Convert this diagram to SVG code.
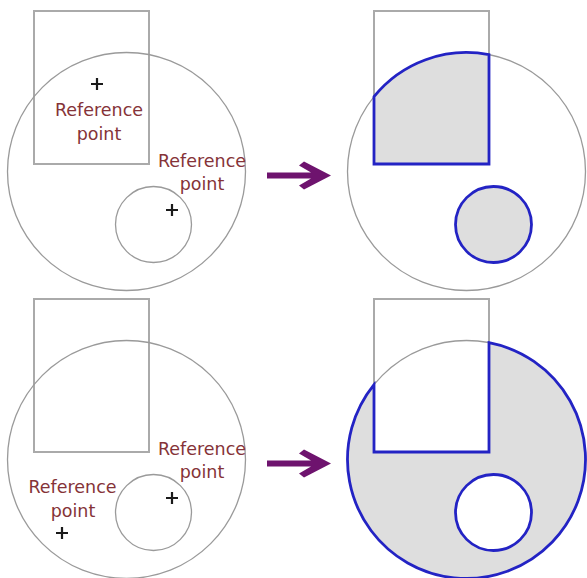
<svg xmlns="http://www.w3.org/2000/svg" width="587" height="578" viewBox="0 0 587 578">
  <style>
    .rect{fill:none;stroke:#aaaaaa;stroke-width:2}
    .circ{fill:none;stroke:#9a9a9a;stroke-width:1.3}
    .res{fill:#dedede;stroke:#2323c4;stroke-width:2.8;stroke-linejoin:miter}
    .hole{fill:#ffffff;stroke:#2323c4;stroke-width:2.8}
    .lbl{font-family:"DejaVu Sans","Liberation Sans",sans-serif;font-size:17.5px;fill:#853338;text-anchor:middle}
    .plus{stroke:#1a1a1a;stroke-width:2.2;fill:none}
    .arrow{fill:#6e136e}
  </style>
  <defs>
    <path id="plus" class="plus" d="M-6,0H6M0,-6V6"/>
    <path id="arr" class="arrow" d="M267,172.5 H311 L299,165.5 L304,161.5 L331,175.5 L304,189.5 L299,185.5 L311,178.5 H267 Z"/>
  </defs>

  <g id="panel-top-left">
    <rect class="rect" x="34" y="11" width="115" height="153"/>
    <circle class="circ" cx="126.5" cy="171.5" r="119"/>
    <circle class="circ" cx="153.5" cy="224.5" r="38"/>
    <use href="#plus" x="97" y="84"/>
    <text class="lbl" x="99" y="116">Reference</text>
    <text class="lbl" x="99" y="140">point</text>
    <text class="lbl" x="202" y="167">Reference</text>
    <text class="lbl" x="202" y="190">point</text>
    <use href="#plus" x="172" y="210"/>
  </g>

  <g id="panel-top-right">
    <rect class="rect" x="374" y="11" width="115" height="153"/>
    <circle class="circ" cx="466.5" cy="171.5" r="119"/>
    <path class="res" d="M374,96.64 A119,119 0 0 1 489,54.65 L489,164 L374,164 Z"/>
    <circle class="res" cx="493.5" cy="224.5" r="38"/>
  </g>

  <g id="panel-bottom-left">
    <rect class="rect" x="34" y="299" width="115" height="153"/>
    <circle class="circ" cx="126.5" cy="459.5" r="119"/>
    <circle class="circ" cx="153.5" cy="512.5" r="38"/>
    <text class="lbl" x="202" y="455">Reference</text>
    <text class="lbl" x="202" y="478">point</text>
    <use href="#plus" x="172" y="498"/>
    <text class="lbl" x="72.5" y="493">Reference</text>
    <text class="lbl" x="73" y="517">point</text>
    <use href="#plus" x="62" y="533"/>
  </g>

  <g id="panel-bottom-right">
    <rect class="rect" x="374" y="299" width="115" height="153"/>
    <circle class="circ" cx="466.5" cy="459.5" r="119"/>
    <path class="res" d="M489,342.65 A119,119 0 1 1 374,384.64 L374,452 L489,452 Z"/>
    <circle class="hole" cx="493.5" cy="512.5" r="38"/>
  </g>

  <g id="connectors">
    <use href="#arr"/>
    <use href="#arr" y="288"/>
  </g>
</svg>
